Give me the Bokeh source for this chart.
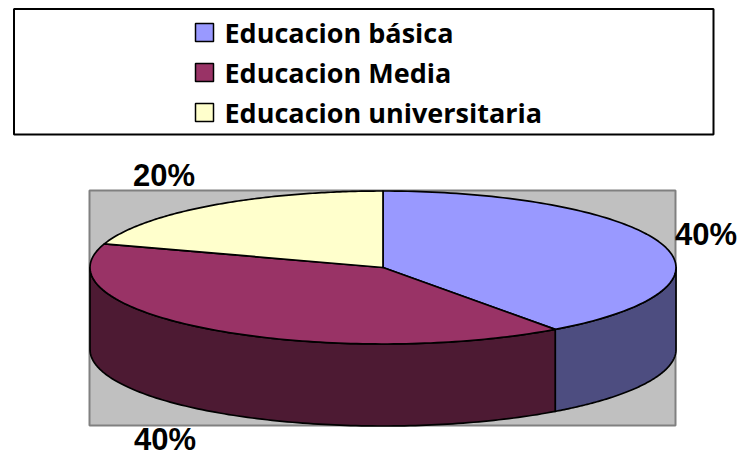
import numpy as np
from bokeh.plotting import figure
from bokeh.models import Range1d
from bokeh.core.properties import value
from bokeh.embed import file_html
from bokeh.resources import INLINE

categories = ["Educacion básica", "Educacion Media", "Educacion universitaria"]
values = [40, 40, 20]
top_colors = ["#9999FF", "#993366", "#FFFFCC"]
side_colors = ["#4D4D80", "#4D1A33", "#808066"]
labels = ["40%", "40%", "20%"]

W, H = 739, 456
p = figure(width=W, height=H, output_backend="svg", toolbar_location=None,
           x_range=Range1d(0, W), y_range=Range1d(H, 0),
           min_border=0, outline_line_color=None, background_fill_color="white")
p.axis.visible = False
p.grid.visible = False

LINE = 1.7
# legend box
p.quad(left=13.5, right=713, top=8.5, bottom=134, fill_color="white",
       line_color="black", line_width=2)
legend_ys = [32, 72, 112]
for name, col, y in zip(categories, top_colors, legend_ys):
    p.quad(left=195, right=213, top=y - 9, bottom=y + 9, fill_color=col,
           line_color="black", line_width=1.5)
    p.text([224], [y], text=[name], text_font=value("Open Sans"), text_font_style="bold",
           text_font_size="27px", text_color="black", text_baseline="middle", text_align="left")

# plot area
p.quad(left=89, right=675, top=190, bottom=425, fill_color="#C0C0C0",
       line_color="#808080", line_width=2)

cx, cy, rx, ry, depth = 382.5, 267, 293, 76.5, 82
total = sum(values)
edges = np.cumsum([0] + values) / total * 2 * np.pi


def rim(a0, a1, n=120):
    t = np.linspace(a0, a1, n)
    return cx + rx * np.sin(t), cy - ry * np.cos(t)


# walls of the cylinder (only the front half, pi/2 to 3pi/2, can be seen)
for i in range(len(values)):
    a0 = max(edges[i], np.pi / 2)
    a1 = min(edges[i + 1], 3 * np.pi / 2)
    if a1 <= a0:
        continue
    x, y = rim(a0, a1)
    p.patch(np.r_[x, x[::-1]], np.r_[y, y[::-1] + depth], fill_color=side_colors[i],
            line_color="black", line_width=LINE, line_join="round")

# top faces
for i in range(len(values)):
    x, y = rim(edges[i], edges[i + 1])
    p.patch(np.r_[cx, x], np.r_[cy, y], fill_color=top_colors[i],
            line_color="black", line_width=LINE, line_join="round")

# data labels
label_pos = [(705.5, 234), (164.5, 439), (163.5, 175)]
for txt, (lx, ly) in zip(labels, label_pos):
    p.text([lx], [ly], text=[txt], text_font=value("Liberation Sans"), text_font_style="bold",
           text_font_size="31px", text_color="black", text_baseline="middle", text_align="center")

open("out.html", "w").write(file_html(p, INLINE))
